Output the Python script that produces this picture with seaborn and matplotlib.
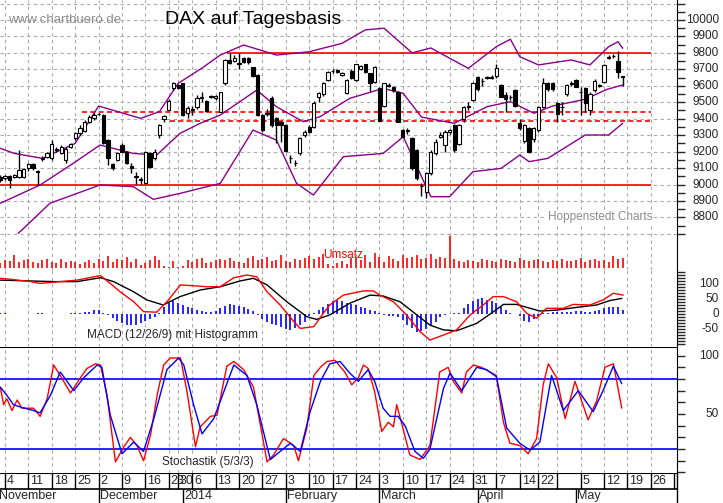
import numpy as np
import pandas as pd
import matplotlib
matplotlib.use("Agg")
import matplotlib.pyplot as plt
import matplotlib.transforms as mtrans
import seaborn as sns

sns.set_style("white")
plt.rcParams.update({'font.family': 'Liberation Sans', 'font.size': 8.5})

# --- Kursdaten (Tagesindex 0 = 1. Nov 2013) ---
opens = [9048,9037,9052,9048,9048,9048,9098,9122,9078,9157,9169,9159,9210,9193,9149,9230,9281,9311,9327,9382,
         9402,9428,9422,9270,9125,9149,9240,9200,9114,9048,9032,9011,9189,9159,9301,9396,9453,9584,9605,9615,
         9437,9453,9469,9528,9509,9534,9524,9443,9615,9757,9753,9736,9767,9767,9712,9665,9422,9430,9524,9402,
         9380,9362,9160,9128,9189,9301,9351,9351,9534,9550,9635,9690,9696,9666,9554,9690,9635,9700,9730,9676,
         9621,9584,9477,9600,9595,9564,9331,9328,9281,9210,8990,8957,9068,9190,9287,9240,9322,9362,9246,9397,
         9473,9514,9651,9628,9648,9650,9660,9605,9544,9530,9574,9372,9266,9346,9275,9332,9473,9615,9618,9493,
         9470,9550,9614,9635,9560,9589,9450,9574,9600,9625,9772,9779,9753,9656]
closes = [9027,9054,9027,9058,9088,9092,9122,9098,9080,9160,9189,9244,9212,9230,9216,9244,9311,9341,9382,9408,
          9422,9430,9250,9159,9098,9189,9200,9133,9098,9046,9030,9200,9104,9200,9362,9416,9509,9619,9584,9422,
          9463,9455,9528,9530,9449,9534,9538,9560,9757,9736,9767,9735,9747,9742,9661,9422,9331,9432,9362,9362,
          9362,9206,9161,9130,9281,9321,9321,9497,9558,9619,9686,9692,9686,9680,9635,9650,9730,9720,9686,9615,
          9716,9388,9615,9601,9574,9382,9291,9330,9100,9037,8992,9068,9200,9261,9301,9322,9330,9210,9362,9473,
          9475,9615,9578,9630,9650,9652,9710,9534,9518,9532,9478,9342,9362,9200,9342,9473,9619,9578,9578,9427,
          9472,9605,9616,9595,9562,9493,9550,9630,9602,9727,9774,9781,9686,9654]
highs = [9058,9060,9058,9065,9210,9100,9130,9128,9088,9175,9200,9270,9225,9240,9225,9255,9320,9360,9395,9420,
         9435,9435,9428,9275,9130,9200,9250,9205,9130,9078,9045,9205,9195,9215,9370,9420,9520,9625,9612,9618,
         9475,9480,9545,9560,9515,9545,9545,9565,9765,9800,9790,9800,9775,9775,9715,9670,9430,9460,9535,9410,
         9385,9370,9180,9150,9290,9330,9360,9505,9565,9625,9690,9700,9700,9685,9640,9700,9735,9725,9735,9680,
         9720,9590,9620,9615,9600,9570,9340,9345,9290,9215,9010,9075,9210,9275,9320,9330,9340,9370,9370,9480,
         9500,9625,9660,9645,9660,9665,9730,9610,9560,9545,9580,9400,9370,9350,9350,9480,9650,9625,9625,9500,
         9500,9610,9630,9640,9590,9595,9560,9640,9610,9730,9790,9795,9810,9660]
lows = [9015,9030,8977,9040,9040,9040,9085,9090,8997,9140,9160,9150,9195,9185,9130,9220,9270,9300,9320,9375,
        9395,9420,9245,9120,9090,9140,9195,9125,9070,9003,9003,9003,9100,9150,9280,9380,9450,9575,9578,9415,
        9405,9420,9460,9500,9440,9525,9515,9440,9605,9730,9745,9700,9740,9735,9655,9418,9320,9415,9350,9250,
        9260,9200,9130,9110,9180,9290,9315,9345,9500,9540,9630,9680,9680,9660,9550,9640,9630,9695,9680,9570,
        9615,9385,9470,9590,9565,9378,9280,9310,9090,9030,8930,8920,9060,9180,9280,9200,9310,9200,9240,9380,
        9450,9505,9570,9600,9640,9640,9650,9530,9440,9515,9470,9330,9250,9190,9260,9320,9465,9570,9570,9380,
        9420,9540,9600,9590,9420,9440,9420,9565,9590,9620,9760,9770,9650,9600]
umsatz = [5,8,7,13,6,8,9,6,5,8,9,6,5,9,6,7,6,4,6,8,5,9,7,12,6,9,8,11,6,9,
          3,5,8,12,8,2,1,7,1,2,8,6,9,10,5,6,8,9,8,10,7,6,5,10,12,8,9,11,7,8,
          13,7,6,9,8,10,12,9,11,14,4,2,5,7,4,10,10,8,13,6,15,11,6,12,9,7,13,10,11,13,
          9,10,14,9,11,10,32,9,7,6,8,7,6,9,8,7,6,9,8,7,6,10,8,7,8,9,7,6,8,7,
          9,7,7,8,10,6,8,9,7,8,6,12,9,10]

# Bollinger-Bänder
bb_up_x = [0,3,9,16,21,30,34,38,43,47,52,59,66,73,78,82,88,92,100,106,109,111,115,122,126,130,132,133]
bb_up = [9220,9189,9159,9250,9477,9402,9443,9615,9706,9787,9848,9787,9807,9858,9940,9950,9800,9830,9706,9838,
         9883,9777,9727,9757,9727,9838,9868,9828]
bb_mid_x = [0,8.5,15.6,21.3,28.4,33.4,38.4,42.7,47,54.8,59,64.7,68.3,74.7,81.8,86.1,90,97,104,109,114,118,125,129.6,133]
bb_mid = [8886,8997,9129,9240,9189,9179,9311,9372,9422,9574,9473,9382,9412,9524,9584,9554,9410,9372,9473,9504,
          9433,9477,9518,9578,9605]
bb_low_x = [3.8,5,10.6,21.3,28.4,32.7,38.4,47,54,59,63.3,66.9,73.3,81.8,86.1,90,92,96,101,107,111,113,117,125,130,133]
bb_low = [8703,8734,8886,8997,8987,8910,8946,9007,9331,9270,9007,8936,9169,9189,9291,9048,8926,8926,9078,9098,
          9179,9139,9159,9301,9301,9372]

# MACD
macd_x = [0,2.1,6.4,8.5,11.4,16.4,21.4,23.5,25.6,28.5,30.6,33.4,35.6,38.5,44.2,47,49.9,52.7,54.8,57,59.8,62.7,
          64.1,67,69,70.4,73.3,77.6,79.7,81.1,84,86.8,89.7,91.8,94.7,97.5,100.4,103.2,105.3,107.5,110.3,112.5,
          114.6,116.7,120.3,122.4,126,128.8,131,133.1]
macd = [119,116,108,102,106,113,128,102,74,41,8,6,41,97,91,91,121,130,124,74,30,-25,-48,-42,2,30,63,77,77,63,
        41,-3,-59,-87,-70,-53,-3,30,58,58,41,2,-14,19,19,32,30,47,69,63]
signal_x = [0,11.4,16.4,21.4,24.2,28.5,31.3,34.8,38.4,42.7,47,51.2,54.1,57,61.2,65.5,67.6,70.4,74.7,79,81.8,85.4,
            89,91.8,94.7,97.5,101.8,104.6,107.5,110.3,113.2,115.3,118.9,123.1,127.4,130.3,132.8]
signal = [113,108,108,121,108,74,47,30,58,80,91,110,119,97,41,-9,-18,-3,36,63,60,41,-3,-37,-53,-56,-31,-1,32,32,
          19,10,13,22,30,45,52]
histo = [2,2,0,0,0,0,1,1,2,2,0,1,1,0,1,2,2,4,6,8,12,15,2,-3,-12,-22,-30,-37,-37,-35,-30,-22,-16,-10,5,25,38,43,
         38,30,24,19,15,10,8,6,10,20,28,32,30,28,24,18,10,-2,-18,-28,-32,-38,-42,-50,-53,-45,-35,-25,-8,5,15,25,
         35,45,47,42,36,33,30,25,20,15,10,5,-3,-5,-6,-10,-20,-35,-48,-60,-58,-50,-38,-25,-10,-2,0,2,5,20,35,45,
         50,52,48,42,36,25,12,5,0,-8,-22,-25,-18,-8,2,5,6,8,8,7,8,10,10,8,7,10,12,20,22,24,22,15]

# Stochastik
stk_x = [0,0.7,1.4,2.5,3.6,4.6,7.1,8.5,10,11.4,12.8,15,17.1,18.5,20.3,21.4,22.8,24.6,26.4,27.8,29.2,30.6,32.1,
         33.5,34.9,36.3,38.5,39.9,41.7,42.7,44.9,46.3,48.4,49.9,52,54.1,57,58.4,60.5,62.7,63.7,65.5,67,68.4,69.8,
         71.5,73.6,75.1,76.5,77.6,78.6,80,81.5,82.9,84,84.7,85.7,87.5,89.7,91.8,93.9,95.7,96.8,98.6,99.6,101.1,
         102.8,106,107.5,108.9,111,112.8,114.6,116,117.1,118.9,120.7,122.8,125.6,127.4,129.2,131,132.8]
stk_k = [73,58,63,53,62,55,55,48,63,92,83,68,81,89,93,92,66,9,22,30,23,10,32,66,92,98,98,69,22,39,48,49,91,95,88,
         73,9,15,29,23,10,38,83,90,95,96,86,75,81,92,89,69,35,43,39,58,43,15,11,23,86,90,78,68,86,92,90,83,43,25,
         23,16,29,75,93,81,46,78,45,61,90,93,55]
std_x = [0,1.4,2.8,4.3,7.1,8.5,10.7,12.8,15.7,17.8,20.7,21.7,23.5,26,28.5,30.6,32.8,35.6,38.1,39.2,41.3,43.1,45.6,
         49.9,52.7,54.8,57.7,59.8,62,64.1,66.2,68.4,70.4,72.6,74.7,76.5,78.6,80,81.8,83.3,85,86.5,88.6,90.4,91.8,
         94.7,96.1,98.6,101.8,103.9,106,108.2,111,113.2,115.3,117.8,120.3,123.5,126.7,128.8,131,132.8]
std_d = [73,66,58,56,53,51,66,86,70,81,92,90,49,16,26,18,46,88,98,92,58,33,46,92,83,58,11,18,25,18,52,78,93,95,
         85,78,88,78,55,48,48,40,18,12,20,72,85,70,90,88,82,38,25,19,26,83,53,70,52,70,91,76]

# Achsenbeschriftung
week_pos = [1,6,11,16,21,26,31,36,38,41,46,51,56,61,66,71,76,81,86,91,96,101,106,111,115,119,124,129,134,139,144]
week_lab = ['4','11','18','25','2','9','16','23','30','6','13','20','27','3','10','17','24','3','10','17','24',
            '31','7','14','22','','5','12','19','26','']
month_pos = [-0.5,21,39,61,81,102,123]
month_lab = ['November','December','2014','February','March','April','May']

W, H = 723, 503
XL = (-0.07, 144.6)
fig = plt.figure(figsize=(W / 100, H / 100), dpi=100)


def rect(x0, y0, x1, y1):
    return [x0 / W, 1 - y1 / H, (x1 - x0) / W, (y1 - y0) / H]


def panel(r, ylim):
    ax = fig.add_axes(r)
    ax.set_xlim(*XL)
    ax.set_ylim(*ylim)
    for s in ['top', 'left', 'bottom']:
        ax.spines[s].set_visible(False)
    ax.spines['right'].set_color('black')
    ax.set_xticks([])
    ax.yaxis.tick_right()
    ax.tick_params(axis='y', which='both', direction='out', length=6, width=1, labelright=False)
    ax.patch.set_alpha(0)
    for p in week_pos[:-1]:
        ax.axvline(p, color='#aaaaaa', lw=0.8, ls=(0, (3, 3)), zorder=0)
    return ax


def right_labels(ax, vals, labs):
    tr = mtrans.blended_transform_factory(ax.transAxes, ax.transData)
    for v, l in zip(vals, labs):
        ax.text(719 / 677, v, l, transform=tr, ha='right', va='center', fontsize=8.5, clip_on=False)


idx = np.arange(len(closes))

# ---- Kurs-Panel ----
ax = panel(rect(0, 0, 677, 236), (8687, 10121.6))
for p in range(8700, 10101, 100):
    ax.axhline(p, color='#aaaaaa', lw=0.8, ls=(0, (3, 3)), zorder=0)
ax.set_yticks(range(8700, 10101, 100))
ax.set_yticks(range(8750, 10101, 100), minor=True)
right_labels(ax, range(8800, 10001, 100), [str(v) for v in range(8800, 10001, 100)])
ax.hlines(9000, -0.6, 139.1, color='red', lw=1.2)
ax.hlines(9800, 48.4, 139.1, color='red', lw=1.2)
ax.hlines(9440, 17.5, 139.1, color='red', lw=1.2, ls=(0, (3, 2)))
ax.hlines(9385, 36.3, 139.1, color='red', lw=1.2, ls=(0, (3, 2)))
for xs, ys in [(bb_up_x, bb_up), (bb_mid_x, bb_mid), (bb_low_x, bb_low)]:
    sns.lineplot(x=xs, y=ys, ax=ax, color='#8b008b', lw=1, legend=False)
ax.vlines(idx, lows, highs, color='black', lw=1, zorder=3)
for i, o, c in zip(idx, opens, closes):
    bot, h = min(o, c), max(abs(c - o), 3)
    ax.add_patch(plt.Rectangle((i - 0.35, bot), 0.7, h, facecolor='white' if c >= o else 'black',
                               edgecolor='black', lw=0.8, zorder=4))
ax.text(8 / 677, 1 - 20 / 236, 'www.chartbuero.de', transform=ax.transAxes, color='#8c8c8c',
        fontsize=9.5, va='center')
ax.text(165 / 677, 1 - 20 / 236, 'DAX auf Tagesbasis', transform=ax.transAxes, color='black',
        fontsize=14, va='center')
ax.text(548 / 677, 1 - 217 / 236, 'Hoppenstedt Charts', transform=ax.transAxes, color='#8c8c8c',
        fontsize=8.5, va='center', bbox=dict(facecolor='white', edgecolor='none', pad=0.5))
ax.set_xlabel('')
ax.set_ylabel('')

# ---- Umsatz ----
axv = panel(rect(0, 236, 677, 270), (-2, 32))
axv.set_yticks([])
axv.vlines(idx, 0, umsatz, color='red', lw=1.2)
axv.text(323 / 677, 0.45, 'Umsatz', transform=axv.transAxes, color='red', fontsize=8.5, va='center')

# ---- MACD ----
axm = panel(rect(0, 270, 677, 347), (-110, 146.7))
axm.set_yticks(range(-100, 141, 50))
axm.set_yticks(range(-100, 141, 10), minor=True)
axm.tick_params(axis='y', which='minor', length=6)
right_labels(axm, [100, 50, 0, -50], ['100', '50', '0', '-50'])
axm.vlines(idx, 0, histo, color='blue', lw=1.2)
sns.lineplot(x=signal_x, y=signal, ax=axm, color='black', lw=1, legend=False)
sns.lineplot(x=macd_x, y=macd, ax=axm, color='red', lw=1, legend=False)
axm.text(87 / 677, 1 - 65 / 77, 'MACD (12/26/9) mit Histogramm', transform=axm.transAxes, fontsize=8.5,
         va='center')
axm.set_xlabel('')
axm.set_ylabel('')

# ---- Stochastik ----
axs = panel(rect(0, 347, 677, 473), (-0.5, 107.4))
axs.set_yticks(range(0, 101, 50))
axs.set_yticks(range(0, 101, 10), minor=True)
axs.tick_params(axis='y', which='minor', length=6)
right_labels(axs, [100, 50], ['100', '50'])
axs.axhline(80, color='blue', lw=1.2)
axs.axhline(20, color='blue', lw=1.2)
axs.axhline(107.4, color='black', lw=1.5)
sns.lineplot(x=stk_x, y=stk_k, ax=axs, color='red', lw=1, legend=False)
sns.lineplot(x=std_x, y=std_d, ax=axs, color='blue', lw=1, legend=False)
axs.text(162 / 677, 1 - 115 / 126, 'Stochastik (5/3/3)', transform=axs.transAxes, fontsize=8.5,
         va='center', bbox=dict(facecolor='white', edgecolor='none', pad=0.5))
axs.set_xlabel('')
axs.set_ylabel('')

# ---- Datumsachse ----
axd = fig.add_axes(rect(0, 473, 677, 503))
axd.set_xlim(*XL)
axd.set_ylim(0, 1)
axd.axis('off')
axd.axhline(1, color='black', lw=1.5)
axd.axhline(14 / 30, color='black', lw=1.2)
axd.vlines(week_pos, 14 / 30, 1, color='black', lw=1)
for p, l in zip(week_pos, week_lab):
    axd.text(p + 0.4, 0.73, l, fontsize=9, va='center', ha='left')
axd.vlines(month_pos, 0, 14 / 30, color='black', lw=1)
for p, l in zip(month_pos, month_lab):
    axd.text(p + 0.3, 0.22, l, fontsize=9, va='center', ha='left')
axd.plot([XL[1], XL[1]], [0, 1], color='black', lw=1, clip_on=False)

fig.savefig('out.png', dpi=100)
